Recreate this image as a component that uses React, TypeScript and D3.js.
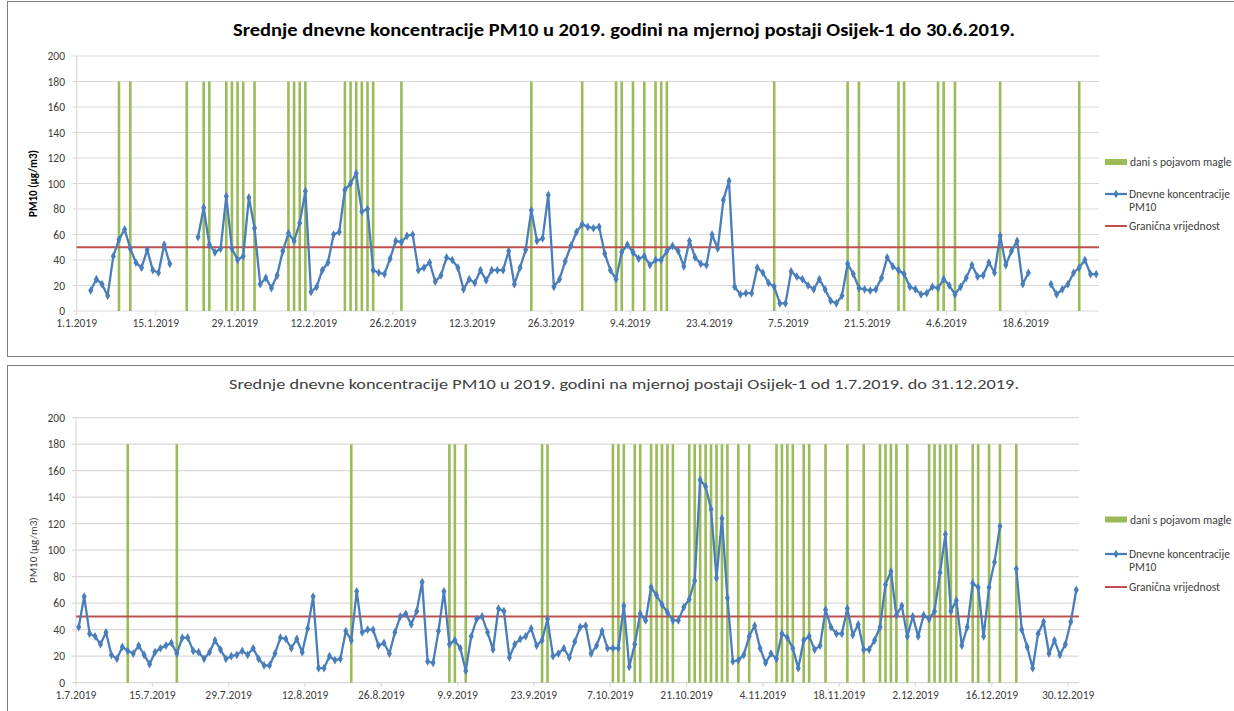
import * as d3 from 'd3';

const year = 2019;
const yTicks = [0, 20, 40, 60, 80, 100, 120, 140, 160, 180, 200];
const limitValue = 50;
const fogMark = 180;
const legendLabels = ['dani s pojavom magle', 'Dnevne koncentracije', 'PM10', 'Granična vrijednost'];
const yLabel = 'PM10 (µg/m3)';

const topTitle = 'Srednje dnevne koncentracije PM10 u 2019. godini na mjernoj postaji Osijek-1 do 30.6.2019.';
const bottomTitle = 'Srednje dnevne koncentracije PM10 u 2019. godini na mjernoj postaji Osijek-1 od 1.7.2019. do 31.12.2019.';

// daily means from 1.1.2019, null = no data
const topValues = [
    null, null, 16, 25, 21, 12, 43, 56, 64, 49,
    38, 34, 48, 32, 30, 52, 37, null, null, null,
    null, 58, 81, 52, 46, 49, 90, 49, 40, 43,
    89, 65, 21, 26, 18, 28, 47, 61, 55, 69,
    94, 15, 19, 32, 38, 60, 62, 95, 100, 108,
    78, 80, 32, 30, 29, 41, 55, 54, 59, 60,
    32, 34, 38, 23, 28, 42, 40, 34, 17, 25,
    22, 32, 24, 32, 32, 32, 47, 21, 34, 48,
    79, 55, 57, 91, 19, 25, 39, 51, 62, 68,
    66, 65, 66, 45, 32, 25, 46, 52, 46, 41,
    43, 36, 40, 40, 47, 51, 47, 35, 55, 42,
    37, 36, 60, 49, 87, 102, 19, 13, 14, 14,
    34, 30, 22, 19, 6, 6, 31, 27, 25, 20,
    17, 25, 17, 8, 6, 12, 37, 29, 18, 17,
    16, 17, 26, 42, 35, 32, 29, 19, 17, 13,
    14, 19, 18, 25, 20, 13, 19, 26, 36, 27,
    28, 38, 30, 59, 36, 47, 55, 21, 30, null,
    null, null, 21, 13, 17, 21, 30, 34, 40, 29,
    29,
];

// daily means from 1.7.2019
const bottomValues = [
    42, 65, 37, 35, 29, 38, 21, 18, 27, 24,
    22, 28, 21, 14, 23, 26, 28, 30, 22, 34,
    34, 24, 23, 18, 23, 32, 25, 18, 20, 21,
    24, 21, 26, 18, 13, 13, 22, 34, 33, 26,
    33, 23, 41, 65, 11, 11, 20, 17, 18, 39,
    32, 69, 38, 40, 40, 28, 30, 22, 38, 50,
    52, 44, 54, 76, 16, 15, 39, 69, 29, 32,
    26, 9, 35, 48, 50, 38, 25, 56, 54, 19,
    29, 33, 35, 41, 28, 32, 48, 20, 22, 26,
    19, 31, 42, 43, 22, 28, 39, 26, 26, 26,
    58, 12, 29, 52, 47, 72, 66, 59, 53, 47,
    47, 57, 63, 77, 153, 148, 131, 79, 124, 64,
    16, 17, 21, 35, 43, 26, 15, 22, 18, 37,
    34, 26, 11, 32, 35, 25, 28, 55, 42, 37,
    37, 56, 36, 44, 25, 25, 32, 42, 74, 84,
    51, 58, 35, 50, 35, 51, 48, 54, 83, 112,
    54, 62, 28, 42, 75, 72, 35, 72, 91, 118,
    null, null, 86, 40, 27, 11, 37, 46, 22, 32,
    21, 29, 46, 70,
];

const topFogDays = [
    '8.1', '10.1', '20.1', '23.1', '24.1', '27.1', '28.1', '29.1', '30.1', '1.2',
    '7.2', '8.2', '9.2', '10.2', '17.2', '18.2', '19.2', '20.2', '21.2', '22.2',
    '27.2', '22.3', '31.3', '6.4', '7.4', '9.4', '11.4', '13.4', '14.4', '15.4',
    '4.5', '17.5', '19.5', '26.5', '27.5', '2.6', '3.6', '5.6', '13.6', '27.6',
];

const bottomFogDays = [
    '10.7', '19.7', '20.8', '7.9', '8.9', '10.9', '24.9', '25.9', '7.10', '8.10',
    '9.10', '11.10', '12.10', '14.10', '15.10', '16.10', '17.10', '18.10', '21.10', '22.10',
    '23.10', '24.10', '25.10', '26.10', '27.10', '28.10', '30.10', '1.11', '6.11', '7.11',
    '8.11', '9.11', '11.11', '12.11', '15.11', '19.11', '22.11', '25.11', '26.11', '27.11',
    '28.11', '30.11', '4.12', '5.12', '6.12', '7.12', '8.12', '9.12', '12.12', '13.12',
    '15.12', '17.12', '20.12',
];

const GREEN = '#9BBB59';
const BLUE = '#4A7EBB';
const RED = '#C0504D';
const GRID = '#d9d9d9';
const TXT = '#404040';
const FONT = 'Carlito, "Liberation Sans Narrow", "Liberation Sans", Arial, sans-serif';

const parseDay = d3.utcParse('%d.%m.%Y');
const fmtTick = d3.utcFormat('%-d.%-m.%Y');

function Panel({ frameY, frameH, start, values, fog, title, bold, titleY, titleSize, titleLen, left, right, top, bottom, legendY }) {
    const days = values.length;
    const x = d3.scaleUtc()
        .domain([start, d3.utcDay.offset(start, days)])
        .range([left, right]);
    const y = d3.scaleLinear().domain([0, 200]).range([bottom, top]);
    const mid = (dt) => x(d3.utcHour.offset(dt, 12));
    const dayX = (i) => mid(d3.utcDay.offset(start, i));

    const line = d3.line()
        .defined(v => v != null)
        .x((v, i) => dayX(i))
        .y(v => y(v));

    const pts = values.map((v, i) => ({ v, i })).filter(p => p.v != null);
    const diamond = d3.symbol(d3.symbolDiamond, 22)();
    const xTicks = d3.range(0, days, 14).map(i => d3.utcDay.offset(start, i));
    const fogDates = fog.map(s => parseDay(`${s}.${year}`));
    const lx = 1105;

    return (
        <g>
            <rect x={7.5} y={frameY} width={1240} height={frameH} fill="white" stroke="#7f7f7f" strokeWidth={1} />
            <text x={624} y={titleY} textAnchor="middle" fontFamily={FONT} fontSize={titleSize}
                fontWeight={bold ? 'bold' : 'normal'} fill={bold ? '#000' : '#404040'}
                textLength={titleLen} lengthAdjust="spacingAndGlyphs">{title}</text>

            {yTicks.map(t => (
                <g key={t}>
                    <line x1={left - 4} x2={right} y1={y(t)} y2={y(t)} stroke={GRID} strokeWidth={1.2} />
                    <text x={65} y={y(t)} dy="0.35em" textAnchor="end" fontFamily={FONT} fontSize={11.5} fill={TXT}>{t}</text>
                </g>
            ))}
            <line x1={left} x2={left} y1={top} y2={bottom} stroke={GRID} strokeWidth={1.2} />
            {xTicks.map(t => (
                <g key={+t}>
                    <line x1={x(t)} x2={x(t)} y1={bottom} y2={bottom + 4} stroke={GRID} strokeWidth={1.2} />
                    <text x={x(t)} y={bottom + 16} textAnchor="middle" fontFamily={FONT} fontSize={11.5} fill={TXT}>{fmtTick(t)}</text>
                </g>
            ))}
            <text transform={`translate(33, ${(top + bottom) / 2}) rotate(-90)`} textAnchor="middle" dy="0.35em"
                fontFamily={FONT} fontSize={11} fontWeight={bold ? 'bold' : 'normal'} fill={bold ? '#000' : TXT}>{yLabel}</text>

            {fogDates.map((dt, i) => (
                <rect key={i} x={mid(dt) - 1.3} width={2.6} y={y(fogMark)} height={y(0) - y(fogMark)} fill={GREEN} />
            ))}

            <line x1={left} x2={right} y1={y(limitValue)} y2={y(limitValue)} stroke={RED} strokeWidth={2} />
            <path d={line(values)} fill="none" stroke={BLUE} strokeWidth={2.3} strokeLinejoin="round" />
            {pts.map(p => (
                <path key={p.i} d={diamond} transform={`translate(${dayX(p.i)},${y(p.v)})`} fill={BLUE} />
            ))}

            <g fontFamily={FONT} fontSize={11.5} fill={TXT}>
                <rect x={lx} y={legendY[0] - 3} width={22} height={6} fill={GREEN} />
                <text x={lx + 25} y={legendY[0]} dy="0.35em">{legendLabels[0]}</text>
                <line x1={lx} x2={lx + 22} y1={legendY[1]} y2={legendY[1]} stroke={BLUE} strokeWidth={2.3} />
                <path d={diamond} transform={`translate(${lx + 11},${legendY[1]})`} fill={BLUE} />
                <text x={lx + 24} y={legendY[1]} dy="0.35em">{legendLabels[1]}</text>
                <text x={lx + 24} y={legendY[1] + 13} dy="0.35em">{legendLabels[2]}</text>
                <line x1={lx} x2={lx + 22} y1={legendY[2]} y2={legendY[2]} stroke={RED} strokeWidth={2} />
                <text x={lx + 24} y={legendY[2]} dy="0.35em">{legendLabels[3]}</text>
            </g>
        </g>
    );
}

export default function App() {
    return (
        <svg width={1234} height={711} style={{ position: 'absolute', left: 0, top: 0, background: 'white' }}>
            <Panel frameY={1.5} frameH={355} start={parseDay(`1.1.${year}`)} values={topValues} fog={topFogDays}
                title={topTitle} bold={true} titleY={36} titleSize={18} titleLen={782}
                left={76.6} right={1099} top={56} bottom={311} legendY={[162, 194, 226]} />
            <Panel frameY={365.5} frameH={360} start={parseDay(`1.7.${year}`)} values={bottomValues} fog={bottomFogDays}
                title={bottomTitle} bold={false} titleY={389} titleSize={15} titleLen={790}
                left={76} right={1079} top={417.7} bottom={682.7} legendY={[519.5, 554, 587]} />
        </svg>
    );
}
